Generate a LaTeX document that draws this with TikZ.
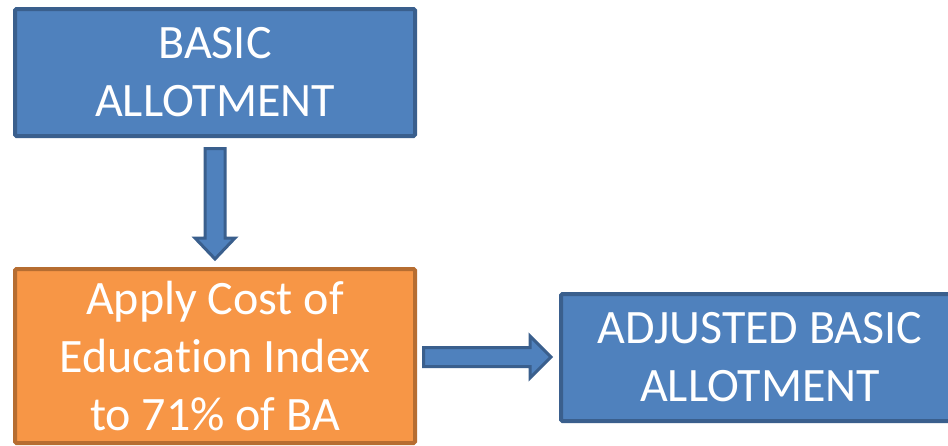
\documentclass[tikz,border=0pt]{standalone}
\usepackage{fontspec}
\setmainfont{Carlito}[RawFeature=-liga]
\usetikzlibrary{calc}
\definecolor{bluefill}{HTML}{4F81BD}
\definecolor{blueline}{HTML}{3A5F8D}
\definecolor{orangefill}{HTML}{F79646}
\definecolor{orangeline}{HTML}{B66D31}
\tikzset{
  flowbox/.style={draw, line width=4pt, rounded corners=1.5pt, text=white, align=center,
    font=\fontsize{48}{58}\selectfont, inner sep=0pt},
  bluebox/.style={flowbox, fill=bluefill, draw=blueline},
  orangebox/.style={flowbox, fill=orangefill, draw=orangeline},
  arrowbody/.style={fill=bluefill, draw=blueline, line width=3pt, line join=miter}
}
\begin{document}
\begin{tikzpicture}[x=1pt,y=-1pt]
\clip (0,0) rectangle (948,445);
\fill[white] (0,0) rectangle (948,445);
\node[bluebox, minimum width=400pt, minimum height=127pt] (ba) at (215,72.5) {BASIC\\ALLOTMENT};
\node[orangebox, minimum width=400pt, minimum height=174pt] (cea) at (215,356) {Apply Cost of\\Education Index\\to 71\% of BA};
\node[bluebox, minimum width=398pt, minimum height=127pt] (aba) at (760,357.5) {ADJUSTED BASIC\\ALLOTMENT};
% down arrow
\coordinate (d0) at ($(ba.south)+(0,10.5)$);
\coordinate (d1) at ($(d0 |- cea.north)+(0,-8)$);
\draw[arrowbody] ($(d0)+(-10,0)$) -- ($(d1)+(-10,-21)$) -- ($(d1)+(-20,-21)$) -- (d1)
  -- ($(d1)+(20,-21)$) -- ($(d1)+(10,-21)$) -- ($(d0)+(10,0)$) -- cycle;
% right arrow
\coordinate (r0) at ($(cea.east)+(6.5,1)$);
\coordinate (r1) at ($(r0 -| aba.west)+(-8,0)$);
\draw[arrowbody] ($(r0)+(0,-9.5)$) -- ($(r1)+(-21,-9.5)$) -- ($(r1)+(-21,-21)$) -- (r1)
  -- ($(r1)+(-21,21)$) -- ($(r1)+(-21,9.5)$) -- ($(r0)+(0,9.5)$) -- cycle;
\end{tikzpicture}
\end{document}
